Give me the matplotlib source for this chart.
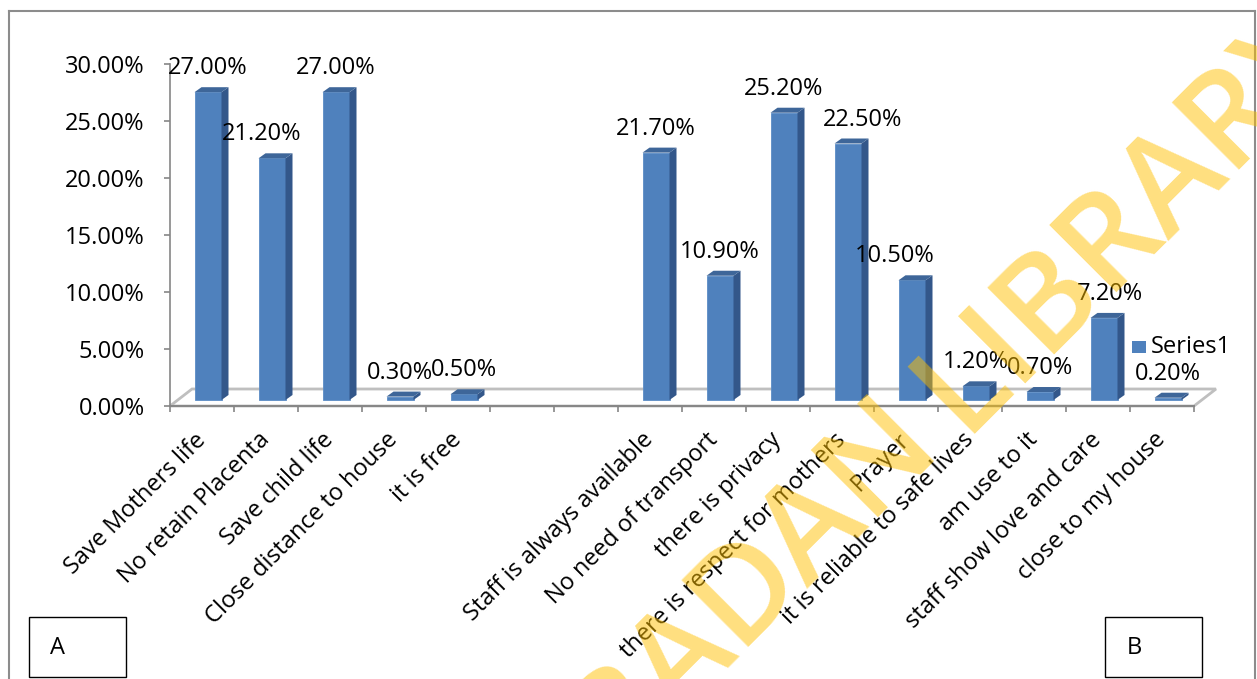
import matplotlib
matplotlib.use("Agg")
import matplotlib.pyplot as plt
from matplotlib.patches import Polygon, Rectangle
from matplotlib.transforms import ScaledTranslation
from matplotlib.ticker import FuncFormatter, FixedLocator

# ---------------- data ----------------
group_a_labels = ["Save Mothers life", "No retain Placenta", "Save child life",
                  "Close distance to house", "it is free"]
group_a_values = [27.0, 21.2, 27.0, 0.3, 0.5]
group_b_labels = ["Staff is always available", "No need of transport", "there is privacy",
                  "there is respect for mothers", "Prayer", "it is reliable to safe lives",
                  "am use to it", "staff show love and care", "close to my house"]
group_b_values = [21.7, 10.9, 25.2, 22.5, 10.5, 1.2, 0.7, 7.2, 0.2]
y_ticks = [0, 5, 10, 15, 20, 25, 30]
series_name = "Series1"
panel_a = "A"
panel_b = "B"
watermark_left = "UNIVERSITY OF IBADAN"
watermark_right = "LIBRARY"

# ---------------- layout ----------------
W, H, DPI = 1257, 679, 100
FONT = "Open Sans"
FS = 17
GAP = 2
n_a = len(group_a_labels)
pos_a = list(range(n_a))
pos_b = [n_a + GAP + i for i in range(len(group_b_labels))]
n_slots = n_a + GAP + len(group_b_labels)
positions = pos_a + pos_b
values = group_a_values + group_b_values
labels_all = group_a_labels + group_b_labels

# label nudges in pixels (manual placement in original)
nudge = {1: -10, 10: 15, 11: -17, 14: 6}

plt.rcParams['font.family'] = [FONT, 'DejaVu Sans']
fig = plt.figure(figsize=(W / DPI, H / DPI), dpi=DPI)

def fx(x):
    return x / W

def fy(y):
    return 1 - y / H

x0, x1, y0, y1 = 170, 1194, 406, 64
ax = fig.add_axes([fx(x0), fy(y0), (x1 - x0) / W, (y0 - y1) / H])
ax.set_xlim(-0.5, n_slots - 0.5)
ax.set_ylim(0, 30)
ax.patch.set_alpha(0)
for s in ["top", "right", "bottom"]:
    ax.spines[s].set_visible(False)
ax.spines["left"].set_color("#868686")
ax.spines["left"].set_linewidth(1.2)

px_x = (n_slots) / (x1 - x0)       # data per pixel in x
px_y = 30 / (y0 - y1)              # data per pixel in y

# floor (3D base)
dx_f, dy_f = 22, 17
floor = Polygon([(-0.5, 0), (n_slots - 0.5, 0),
                 (n_slots - 0.5 + dx_f * px_x, dy_f * px_y), (-0.5 + dx_f * px_x, dy_f * px_y)],
                closed=True, facecolor="white", edgecolor="#BFBFBF", lw=2.0, zorder=1,
                clip_on=False)
ax.add_patch(floor)
ax.plot([-0.5, n_slots - 0.5], [0, 0], color="#868686", lw=1.4, zorder=2, clip_on=False)

# bars
shift = ScaledTranslation(6 / DPI, 6 / DPI, fig.dpi_scale_trans)
bar_tr = ax.transData + shift
bw_px, side_px, up_px = 27, 7, 5
bw = bw_px * px_x
front_c = "#4F81BD"
side_c = "#33578A"
top_c = "#3E6699"
ax.bar(positions, values, width=bw, color=front_c, edgecolor="#5B8CC6", lw=0.6,
       transform=bar_tr, zorder=3, clip_on=False)
for p, v in zip(positions, values):
    xl, xr = p - bw / 2, p + bw / 2
    sx, sy = side_px * px_x, up_px * px_y
    side = Polygon([(xr, 0), (xr + sx, sy), (xr + sx, v + sy), (xr, v)], closed=True,
                   facecolor=side_c, edgecolor="none", transform=bar_tr, zorder=3, clip_on=False)
    top = Polygon([(xl, v), (xr, v), (xr + sx, v + sy), (xl + sx, v + sy)], closed=True,
                  facecolor=top_c, edgecolor="none", transform=bar_tr, zorder=3, clip_on=False)
    ax.add_patch(side)
    ax.add_patch(top)

# data labels
for i, (p, v) in enumerate(zip(positions, values)):
    ax.annotate(f"{v:.2f}%", xy=(p, v), xytext=(6 + nudge.get(p, 0), 6 + 24),
                textcoords="offset pixels", ha="center", va="center",
                fontsize=FS, color="black", zorder=5, annotation_clip=False)

# y axis ticks
ax.set_yticks(y_ticks)
ax.yaxis.set_major_formatter(FuncFormatter(lambda v, _: f"{v:.2f}%"))
ax.tick_params(axis="y", length=6 * 0.72, width=1.2, color="#868686", pad=14,
               labelsize=FS)

# x axis: minor ticks at boundaries, labels at centers
ax.set_xticks(list(range(n_slots)))
tick_labels = [""] * n_slots
for p, l in zip(positions, labels_all):
    tick_labels[p] = l
ax.set_xticklabels(tick_labels, rotation=45, ha="right", va="center",
                   rotation_mode="anchor", fontsize=FS)
ax.xaxis.set_minor_locator(FixedLocator([k - 0.5 for k in range(n_slots + 1)]))
ax.tick_params(axis="x", which="major", length=0, pad=22)
ax.tick_params(axis="x", which="minor", length=6 * 0.72, width=1.2, color="#868686")

# legend (manual)
fig.patches.append(Rectangle((fx(1132), fy(353)), 14 / W, 12 / H, transform=fig.transFigure,
                             facecolor=front_c, edgecolor="none"))
fig.text(fx(1151), fy(347), series_name, fontsize=FS, va="center", ha="left")

# outer chart frame
frame_c = "#8C8C8C"
fig.add_artist(plt.Line2D([fx(9), fx(9)], [fy(11), 0], color=frame_c, lw=1.5,
                          transform=fig.transFigure))
fig.add_artist(plt.Line2D([fx(9), fx(1255)], [fy(11), fy(11)], color=frame_c, lw=1.5,
                          transform=fig.transFigure))
fig.add_artist(plt.Line2D([fx(1255), fx(1255)], [fy(11), 0], color=frame_c, lw=1.5,
                          transform=fig.transFigure))

# panel boxes
for (bx, txt) in [(29, panel_a), (1105, panel_b)]:
    fig.patches.append(Rectangle((fx(bx), fy(677)), 97 / W, 60 / H, transform=fig.transFigure,
                                 facecolor="white", edgecolor="black", lw=1.0))
    fig.text(fx(bx + 29), fy(648), txt, fontsize=FS, va="center", ha="center")

# watermark
wm_kw = dict(rotation=45, rotation_mode="anchor", color="#FFC000", alpha=0.5,
             fontsize=96, fontweight="semibold", va="baseline", zorder=20)
fig.text(fx(962), fy(434), watermark_right, ha="left", **wm_kw)
fig.text(fx(944), fy(452), watermark_left, ha="right", **wm_kw)

fig.savefig("out.png", dpi=DPI)
